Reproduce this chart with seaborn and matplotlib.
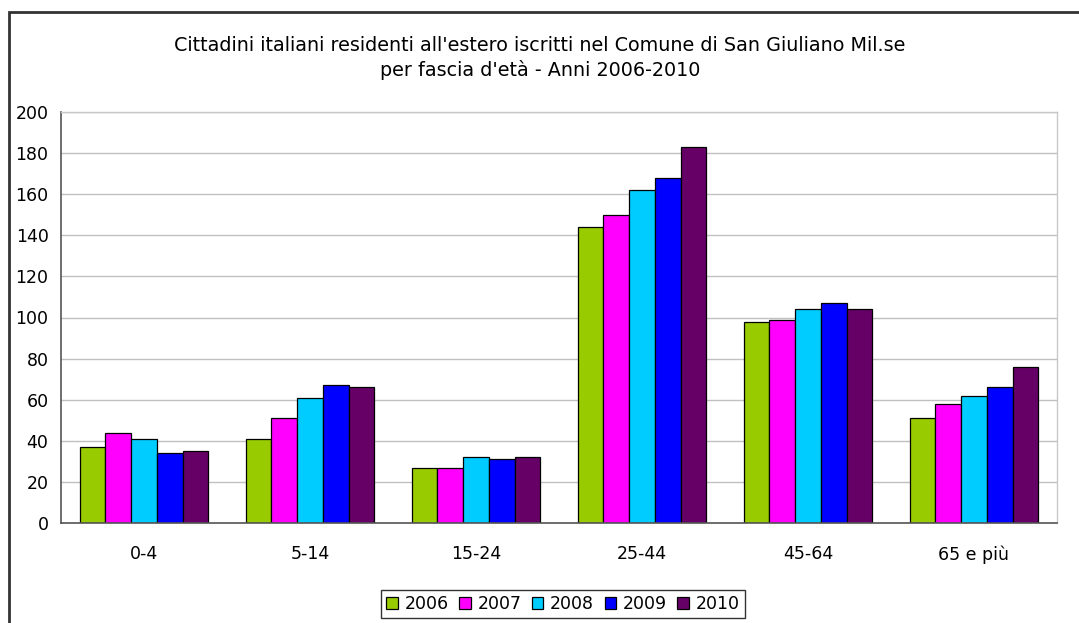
import numpy as np
import pandas as pd
import matplotlib
matplotlib.use("Agg")
import matplotlib.pyplot as plt
import seaborn as sns
from matplotlib.patches import Rectangle

sns.set_style("white")
plt.rcParams["font.family"] = ["DejaVu Sans"]
plt.rcParams["text.color"] = "black"
plt.rcParams["xtick.color"] = "black"
plt.rcParams["ytick.color"] = "black"

# data
age_groups = ["0-4", "5-14", "15-24", "25-44", "45-64", "65 e più"]
years = ["2006", "2007", "2008", "2009", "2010"]
v2006 = [37, 41, 27, 144, 98, 51]
v2007 = [44, 51, 27, 150, 99, 58]
v2008 = [41, 61, 32, 162, 104, 62]
v2009 = [34, 67, 31, 168, 107, 66]
v2010 = [35, 66, 32, 183, 104, 76]
colors = ["#99CC00", "#FF00FF", "#00CCFF", "#0000FF", "#660066"]
title = ("Cittadini italiani residenti all'estero iscritti nel Comune di San Giuliano Mil.se\n"
         "per fascia d'età - Anni 2006-2010")

rows = []
for yr, vals in zip(years, [v2006, v2007, v2008, v2009, v2010]):
    for grp, v in zip(age_groups, vals):
        rows.append({"fascia": grp, "anno": yr, "valore": v})
df = pd.DataFrame(rows)

W, H = 1079, 623
fig = plt.figure(figsize=(W / 100, H / 100), dpi=100)
ax = fig.add_axes([61 / W, (H - 523) / H, (1057 - 61) / W, (523 - 112) / H])

sns.barplot(data=df, x="fascia", y="valore", hue="anno", order=age_groups,
            hue_order=years, palette=colors, width=0.775, saturation=1,
            edgecolor="black", linewidth=0.9, ax=ax)

ax.set_ylim(0, 200)
ax.set_xlim(-0.5, len(age_groups) - 0.5)
ax.set_yticks(np.arange(0, 201, 20))
ax.yaxis.grid(True, color="#C0C0C0", linewidth=1)
ax.set_axisbelow(True)
ax.set_xlabel("")
ax.set_ylabel("")

ax.set_xticks(np.arange(-0.5, len(age_groups), 1), minor=True)
ax.tick_params(axis="x", which="major", length=0, pad=16, labelsize=12.5)
ax.tick_params(axis="x", which="minor", length=5, width=1, color="#555555", direction="out")
ax.tick_params(axis="y", length=4, width=1, color="#555555", direction="out", pad=5, labelsize=12.5)

for side in ["left", "bottom"]:
    ax.spines[side].set_color("#555555")
    ax.spines[side].set_linewidth(1.2)
for side in ["top", "right"]:
    ax.spines[side].set_color("#C8C8C8")
    ax.spines[side].set_linewidth(1)

fig.text(540 / W, 1 - 58 / H, title, ha="center", va="center", fontsize=13.8, linespacing=1.3)

handles, labels = ax.get_legend_handles_labels()
ax.legend_.remove()
leg = fig.legend(handles, labels, loc="center", bbox_to_anchor=(563 / W, 1 - 604 / H),
                 ncol=5, frameon=True, fancybox=False, fontsize=12.5,
                 handlelength=0.65, handleheight=0.65, handletextpad=0.4,
                 columnspacing=0.6, borderpad=0.3, edgecolor="black")
leg.get_frame().set_linewidth(1)

# outer chart border (cropped at right and bottom)
fig.patches.append(Rectangle((9 / W, -0.1), 1.2, (H - 12) / H + 0.1,
                             transform=fig.transFigure, fill=False,
                             edgecolor="#333333", linewidth=2))

fig.savefig("out.png", dpi=100)
